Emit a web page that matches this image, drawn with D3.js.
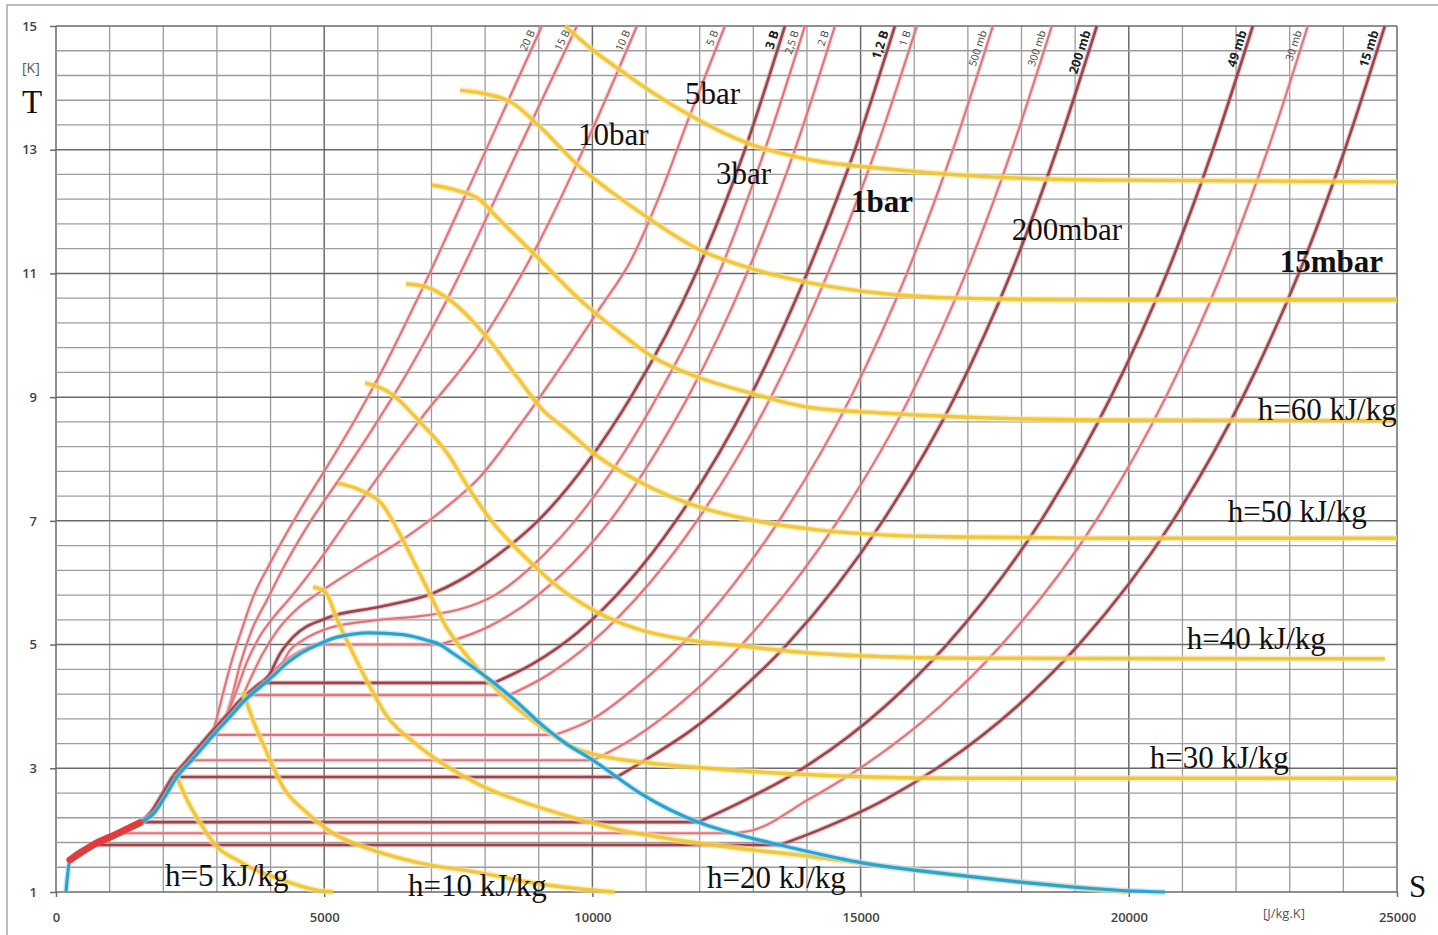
<!DOCTYPE html>
<html>
<head>
<meta charset="utf-8">
<script src="https://d3js.org/d3.v7.min.js"></script>
<style>
  body { margin: 0; background: #fff; }
  svg { display: block; }
</style>
</head>
<body>
<svg id="chart" width="1438" height="935"></svg>
<script>
// helium T-S chart : isobars (red), isenthalps (yellow), saturation dome (blue)

// AXIS TICKS
var xTicks = [0, 5000, 10000, 15000, 20000, 25000];
var yTicks = [1, 3, 5, 7, 9, 11, 13, 15];

// SATURATION DOME  [S (J/kg.K), T (K)]
var satLiquid = [[186,1.0],[261,1.52],[690,1.76],[1137,1.94],[1566,2.12],[1845,2.29],[2032,2.54],[2255,2.86],
  [2498,3.10],[2740,3.34],[3001,3.60],[3243,3.83],[3523,4.10],[3803,4.31],[4045,4.49],[4306,4.70],[4548,4.85],
  [4790,4.96],[5238,5.12],[5536,5.17],[5853,5.19]];
var satVapor = [[5853,5.19],[6468,5.16],[6915,5.07],[7158,5.0],[7400,4.86],[7717,4.67],[8090,4.43],[8556,4.10],
  [9022,3.73],[9488,3.41],[10010,3.13],[10886,2.60],[11445,2.33],[12004,2.12],[12750,1.92],[13495,1.76],
  [14987,1.48],[16851,1.27],[18715,1.10],[19964,1.02],[20672,1.0]];

// compressed liquid, all the isobars run together here
var liquidBundle = [[261,1.52],[447,1.63],[690,1.76],[1137,1.94],[1566,2.12],[1780,2.29],[1960,2.54],[2180,2.86],
  [2420,3.10],[2660,3.34],[2920,3.60],[3160,3.83],[3440,4.10],[3720,4.31],[3960,4.49],[4220,4.70],[4460,4.85],
  [4700,4.96],[4780,5.0]];

// ISOBARS (the part above the bundle / above the dome)
var p20b = [[3131,4.27],[3281,4.75],[3448,5.20],[3653,5.72],[4026,6.37],[4492,7.09],[5014,7.82],[5573,8.63],[6133,9.52],[6729,10.57],[7903,12.78],[9059,15.0]];
var p15b = [[3262,4.10],[3430,4.67],[3653,5.24],[3933,5.72],[4269,6.29],[4735,6.98],[5294,7.69],[5890,8.47],[6599,9.47],[7288,10.57],[8500,12.78],[9711,15.0]];
var p10b = [[3355,4.23],[3560,4.72],[3784,5.11],[4045,5.43],[4362,5.75],[4884,6.33],[5667,7.30],[6785,8.63],[7903,9.87],[8929,11.38],[9954,13.24],[10830,15.0]];
var p5b = [[3616,4.43],[3840,4.83],[4138,5.24],[4511,5.59],[4921,5.85],[5667,6.27],[6412,6.67],[7158,7.14],[7903,7.71],[8649,8.55],[9395,9.47],[10140,10.44],[10699,11.18],[11259,12.27],[11818,13.56],[12470,15.0]];
var p3b = [[4175,4.85],[4418,5.12],[5051,5.43],[6039,5.61],[7027,5.83],[7530,6.04],[8313,6.5],[8984,7.0],[9954,8.0],[10718,9.0],[11930,11.0],[12843,13.0],[13589,15.0]];
var p25b = [[4362,4.91],[4604,5.07],[5107,5.27],[6039,5.40],[6785,5.46],[7531,5.57],[8183,5.8],[9152,6.5],[9674,7.0],[10513,8.0],[11203,9.0],[12358,11.0],[13216,13.0],[13961,15.0]];
var p2b = [[8090,5.3],[8984,5.8],[9842,6.5],[10327,7.0],[11110,8.0],[11780,9.0],[12880,11.0],[13775,13.0],[14521,15.0]];
var p12b = [[8910,4.7],[9730,5.2],[10662,6.0],[11557,7.0],[12936,9.0],[13999,11.0],[14894,13.0],[15639,15.0]];
var p1b = [[9152,4.5],[9935,5.0],[11072,6.0],[11948,7.0],[13328,9.0],[14390,11.0],[15285,13.0],[16049,15.0]];
var p500mb = [[10010,3.8],[10793,4.3],[11669,5.0],[12657,6.0],[13477,7.0],[14819,9.0],[15863,11.0],[16721,13.0],[17466,15.0]];
var p300mb = [[10793,3.5],[11575,4.0],[12787,5.0],[14576,7.0],[15919,9.0],[16962,11.0],[17820,13.0],[18565,15.0]];
var p200mb = [[11110,3.2],[11818,3.6],[12675,4.2],[13626,5.0],[15415,7.0],[16757,9.0],[17801,11.0],[18659,13.0],[19404,15.0]];
var p49mb = [[12880,2.5],[13924,3.0],[15453,4.0],[16609,5.0],[18360,7.0],[19665,9.0],[20709,11.0],[21567,13.0],[22312,15.0]];
var p30mb = [[12992,2.0],[14036,2.5],[14987,3.0],[16478,4.0],[17633,5.0],[19386,7.0],[20690,9.0],[21734,11.0],[22592,13.0],[23337,15.0]];
var p15mb = [[14222,2.0],[15471,2.5],[16422,3.0],[17913,4.0],[19069,5.0],[20821,7.0],[22126,9.0],[23169,11.0],[24027,13.0],[24773,15.0]];

var isobarNames = ['20 B','15 B','10 B','5 B','3 B','2,5 B','2 B','1,2 B','1 B','500 mb','300 mb','200 mb','49 mb','30 mb','15 mb'];
var isobarDark = [false,false,false,false,true,false,false,true,false,false,false,true,true,false,true];
var isobarTsat = [null,null,null,null,null,null,5.0,4.38,4.18,3.54,3.13,2.86,2.13,1.95,1.76];  // saturation temp
var isobarBranch = [3.60,3.83,3.83,4.10,4.49,4.70,null,null,null,null,null,null,null,null,null]; // leaves the bundle
var isobarPoints = [p20b,p15b,p10b,p5b,p3b,p25b,p2b,p12b,p1b,p500mb,p300mb,p200mb,p49mb,p30mb,p15mb];

// ISENTHALPS
var h5 = [[2255,2.86],[2442,2.49],[2684,2.12],[3001,1.73],[3374,1.52],[3616,1.40],[4231,1.19],[4865,1.03],[5163,1.0]];
var h10 = [[3486,4.24],[3672,3.78],[3933,3.25],[4231,2.70],[4679,2.28],[5163,1.95],[5797,1.71],[6729,1.48],[7903,1.31],[9022,1.13],[10140,1.02],[10420,1.0]];
var h20 = [[4790,5.93],[5014,5.86],[5238,5.41],[5480,4.96],[5816,4.38],[6133,3.89],[6729,3.38],[7344,3.0],[7903,2.73],[9152,2.33],[10382,2.03],[12246,1.76],[14110,1.57],[16851,1.26],[18715,1.10],[19964,1.0]];
var h30 = [[5257,7.61],[5667,7.50],[6077,7.27],[6468,6.69],[6729,6.24],[7009,5.75],[7251,5.32],[7475,5.03],[7773,4.70],[8220,4.27],[8705,3.89],[9208,3.57],[9637,3.34],[10270,3.18],[11016,3.09],[12135,3.0],[13495,2.92],[16851,2.84],[19460,2.84],[24997,2.84]];
var h40 = [[5760,9.23],[6226,9.07],[6785,8.60],[7288,8.10],[7717,7.50],[8146,6.97],[8519,6.61],[8835,6.34],[9208,6.04],[10010,5.56],[10886,5.24],[11818,5.07],[12750,4.98],[14110,4.86],[16851,4.78],[24773,4.77]];
var h50 = [[6524,10.83],[6915,10.78],[7344,10.57],[8034,9.97],[8593,9.33],[9078,8.79],[9525,8.47],[10010,8.10],[10513,7.81],[11762,7.29],[12992,7.01],[14241,6.85],[15490,6.77],[16851,6.74],[19460,6.72],[24997,6.72]];
var h60 = [[7009,12.43],[7437,12.35],[7903,12.19],[8220,11.91],[8966,11.27],[9711,10.62],[10513,10.04],[11128,9.65],[11948,9.33],[12936,9.07],[13999,8.84],[15490,8.74],[16851,8.68],[19460,8.63],[24997,8.62]];
var h70 = [[7531,13.96],[7903,13.92],[8519,13.75],[9022,13.37],[9767,12.72],[10382,12.30],[11016,11.91],[12004,11.38],[12880,11.10],[14110,10.84],[15359,10.68],[16851,10.60],[19460,10.57],[24997,10.57]];
var h80 = [[9488,15.0],[10010,14.61],[10513,14.29],[11128,13.92],[11874,13.53],[12880,13.11],[14110,12.83],[15359,12.70],[16851,12.59],[19460,12.51],[24997,12.48]];
var isenthalps = [h5, h10, h20, h30, h40, h50, h60, h70, h80];

// BIG LABELS (placed at S, T of the text baseline start)
var noteText = ['5bar','10bar','3bar','1bar','200mbar','15mbar','h=60 kJ/kg','h=50 kJ/kg','h=40 kJ/kg','h=30 kJ/kg','h=20 kJ/kg','h=10 kJ/kg','h=5 kJ/kg'];
var noteS = [11725,9730,12302,14819,17820,22815,22405,21846,21082,20392,12135,6561,2032];
var noteT = [13.74,13.08,12.45,11.99,11.54,11.02,8.63,6.98,4.93,3.0,1.06,0.94,1.10];
var noteBold = [false,false,false,true,false,true,false,false,false,false,false,false,false];


// SCALES
var svg = d3.select('#chart');
var x = d3.scaleLinear().domain([0, 25000]).range([56, 1397]);
var y = d3.scaleLinear().domain([1, 15]).range([892, 26]);

var line = d3.line()
    .x(function(d){ return x(d[0]); })
    .y(function(d){ return y(d[1]); })
    .curve(d3.curveMonotoneX);

// outer frame
svg.append('rect').attr('x', 7).attr('y', 5).attr('width', 1460).attr('height', 960)
    .attr('fill', 'none').attr('stroke', '#a9a9a9').attr('stroke-width', 1.5);

// GRID
var grid = svg.append('g');
d3.range(26).forEach(function(i){
    var s = i * 1000, major = i % 5 === 0;
    grid.append('line')
        .attr('x1', x(s)).attr('x2', x(s)).attr('y1', y(15)).attr('y2', y(1))
        .attr('stroke', major ? '#6a6a6a' : '#9c9c9c').attr('stroke-width', major ? 1.5 : 1.3);
});
d3.range(36).forEach(function(i){
    var t = 1 + i * 0.4, major = i % 5 === 0;
    grid.append('line')
        .attr('x1', x(0)).attr('x2', x(25000)).attr('y1', y(t)).attr('y2', y(t))
        .attr('stroke', major ? '#6a6a6a' : '#9c9c9c').attr('stroke-width', major ? 1.5 : 1.3);
});

// AXES
var xAxis = svg.append('g').attr('transform', 'translate(0,' + y(1) + ')')
    .call(d3.axisBottom(x).tickValues(xTicks).tickSize(5).tickPadding(16).tickFormat(d3.format('d')));
var yAxis = svg.append('g').attr('transform', 'translate(' + x(0) + ',0)')
    .call(d3.axisLeft(y).tickValues(yTicks).tickSize(6).tickPadding(13));
[xAxis, yAxis].forEach(function(ax){
    ax.select('.domain').remove();
    ax.selectAll('.tick line').attr('stroke', '#6a6a6a').attr('stroke-width', 1.5);
    ax.selectAll('.tick text').attr('fill', '#434343')
        .style('font-family', '"Open Sans", sans-serif').style('font-size', '13px').style('font-weight', 600);
});

// HELPERS
function interpS(curve, t){
    for (var i = 0; i < curve.length - 1; i++){
        var a = curve[i], b = curve[i + 1];
        if ((t - a[1]) * (t - b[1]) <= 0 && a[1] !== b[1]){
            return a[0] + (b[0] - a[0]) * (t - a[1]) / (b[1] - a[1]);
        }
    }
    return curve[curve.length - 1][0];
}

function isobarPath(i){
    var tsat = isobarTsat[i], pts = isobarPoints[i];
    if (tsat){
        var liq = liquidBundle.filter(function(p){ return p[1] < tsat; });
        var sl = interpS(liquidBundle, tsat), sv = interpS(satVapor, tsat);
        liq.push([sl, tsat]);
        return line(liq) + line([[sl, tsat], [sv, tsat]]) + line([[sv, tsat]].concat(pts));
    }
    var br = isobarBranch[i];
    return line(liquidBundle.filter(function(p){ return p[1] <= br; }).concat(pts));
}

// ISOBARS - light first, dark on top
var isoG = svg.append('g');
var order = d3.range(isobarNames.length).sort(function(a, b){ return isobarDark[a] - isobarDark[b]; });
order.forEach(function(i){
    var d = isobarPath(i);
    isoG.append('path').attr('d', d).attr('fill', 'none')
        .attr('stroke', isobarDark[i] ? '#c9878c' : '#f2b3b5').attr('stroke-width', isobarDark[i] ? 5 : 4.5)
        .attr('stroke-opacity', 0.45);
    isoG.append('path').attr('d', d).attr('fill', 'none')
        .attr('stroke', isobarDark[i] ? '#9d444b' : '#e07379').attr('stroke-width', isobarDark[i] ? 2.6 : 2.1);
});

// lambda region, the thick red bit
svg.append('path')
    .attr('d', line(liquidBundle.filter(function(p){ return p[1] <= 2.2; })))
    .attr('fill', 'none').attr('stroke', '#e33b3c').attr('stroke-width', 7).attr('stroke-linecap', 'round');

// ISENTHALPS
var hG = svg.append('g');
isenthalps.forEach(function(h){
    hG.append('path').attr('d', line(h)).attr('fill', 'none')
        .attr('stroke', '#f9e394').attr('stroke-width', 6.5).attr('stroke-opacity', 0.6);
});
isenthalps.forEach(function(h){
    hG.append('path').attr('d', line(h)).attr('fill', 'none')
        .attr('stroke', '#f1c232').attr('stroke-width', 3.4).attr('stroke-opacity', 0.92);
});

// SATURATION DOME
var dome = satLiquid.concat(satVapor.slice(1));
svg.append('path').attr('d', line(dome)).attr('fill', 'none')
    .attr('stroke', '#9fd8ee').attr('stroke-width', 6).attr('stroke-opacity', 0.55);
svg.append('path').attr('d', line(dome)).attr('fill', 'none')
    .attr('stroke', '#2aa3d1').attr('stroke-width', 3.2);
// red band sits over the blue at the bottom left
svg.append('path')
    .attr('d', line([[261,1.52],[447,1.63],[690,1.76],[1137,1.94],[1566,2.12]]))
    .attr('fill', 'none').attr('stroke', '#e33b3c').attr('stroke-width', 6.5).attr('stroke-linecap', 'round');

// ISOBAR TAGS AT THE TOP
isobarNames.forEach(function(name, i){
    var pts = isobarPoints[i];
    var a = pts[pts.length - 2], b = pts[pts.length - 1];
    var x1 = x(a[0]), y1 = y(a[1]), x2 = x(b[0]), y2 = y(b[1]);
    var ang = Math.atan2(y2 - y1, x2 - x1) * 180 / Math.PI;
    var yy = 32;
    var xx = x2 + (x1 - x2) * (yy - y2) / (y1 - y2) - 4;
    svg.append('text')
        .attr('transform', 'translate(' + xx + ',' + yy + ') rotate(' + ang + ')')
        .attr('text-anchor', 'end')
        .attr('fill', isobarDark[i] ? '#222' : '#404040')
        .style('font-family', '"Open Sans", sans-serif')
        .style('font-size', isobarDark[i] ? '12.5px' : '10.5px')
        .style('font-weight', isobarDark[i] ? 700 : 400)
        .text(name);
});

// BIG LABELS
noteText.forEach(function(t, i){
    svg.append('text').attr('x', x(noteS[i])).attr('y', y(noteT[i]))
        .attr('fill', '#111')
        .style('font-family', '"Liberation Serif", "Times New Roman", serif')
        .style('font-size', '31px')
        .style('font-weight', noteBold[i] ? 700 : 400)
        .text(t);
});

// axis names
svg.append('text').attr('x', 22).attr('y', 113).text('T')
    .style('font-family', '"Liberation Serif", serif').style('font-size', '33px').attr('fill', '#111');
svg.append('text').attr('x', 22).attr('y', 73).text('[K]')
    .style('font-family', '"Open Sans", sans-serif').style('font-size', '14px').attr('fill', '#555');
svg.append('text').attr('x', 1409).attr('y', 897).text('S')
    .style('font-family', '"Liberation Serif", serif').style('font-size', '31px').attr('fill', '#111');
svg.append('text').attr('x', 1263).attr('y', 918).text('[J/kg.K]')
    .style('font-family', '"Open Sans", sans-serif').style('font-size', '13px').attr('fill', '#555');
</script>
</body>
</html>
